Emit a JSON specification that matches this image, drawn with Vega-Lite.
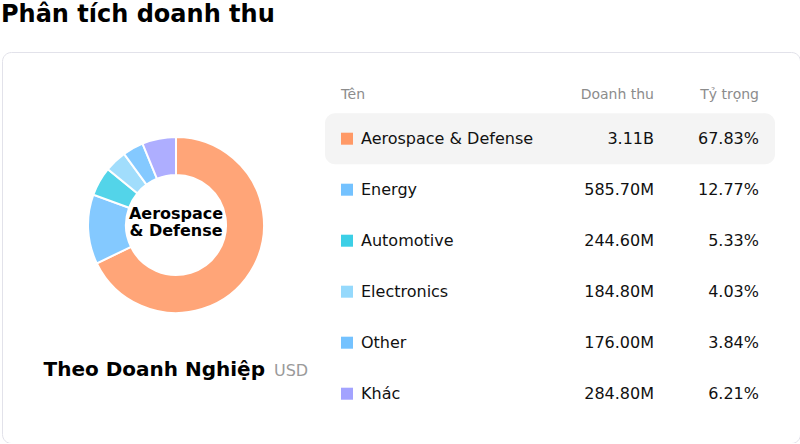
{
  "$schema": "https://vega.github.io/schema/vega-lite/v6.json",
  "padding": {"left": 1, "top": 3, "right": 1, "bottom": 0},
  "title": {
    "text": "Phân tích doanh thu",
    "anchor": "start",
    "frame": "bounds",
    "dx": -1,
    "font": "DejaVu Sans",
    "fontSize": 24,
    "fontWeight": "bold",
    "color": "#000000",
    "offset": 25
  },
  "width": 798,
  "height": 391,
  "view": {"stroke": "#e2e2ea", "strokeWidth": 1, "cornerRadius": 9},
  "datasets": {
    "revenue": [
      {"name": "Aerospace & Defense", "rank": 1, "revenue": 3110.0, "revenue_label": "3.11B", "share": 0.6783},
      {"name": "Energy", "rank": 2, "revenue": 585.7, "revenue_label": "585.70M", "share": 0.1277},
      {"name": "Automotive", "rank": 3, "revenue": 244.6, "revenue_label": "244.60M", "share": 0.0533},
      {"name": "Electronics", "rank": 4, "revenue": 184.8, "revenue_label": "184.80M", "share": 0.0403},
      {"name": "Other", "rank": 5, "revenue": 176.0, "revenue_label": "176.00M", "share": 0.0384},
      {"name": "Khác", "rank": 6, "revenue": 284.8, "revenue_label": "284.80M", "share": 0.0621}
    ]
  },
  "data": {"name": "revenue"},
  "layer": [
    {
      "mark": {"type": "arc", "x": 174, "y": 173, "outerRadius": 88, "innerRadius": 50, "stroke": "#ffffff", "strokeWidth": 2, "opacity": 0.88},
      "encoding": {
        "theta": {"field": "revenue", "type": "quantitative", "stack": true},
        "order": {"field": "rank", "type": "quantitative"},
        "color": {
          "field": "name",
          "type": "nominal",
          "legend": null,
          "scale": {
            "domain": ["Aerospace & Defense", "Energy", "Automotive", "Electronics", "Other", "Khác"],
            "range": ["#FF9966", "#74C2FF", "#3CCFE6", "#95D9FC", "#74C2FF", "#A3A3FF"]
          }
        }
      }
    },
    {
      "transform": [{"filter": "datum.rank == 1"}],
      "mark": {"type": "text", "x": 174, "y": 162, "font": "DejaVu Sans", "fontSize": 16, "fontWeight": "bold", "lineHeight": 17, "color": "#000000"},
      "encoding": {"text": {"value": ["Aerospace", "& Defense"]}}
    },
    {
      "transform": [{"filter": "datum.rank == 1"}],
      "mark": {"type": "text", "x": 263, "y": 318, "font": "DejaVu Sans", "fontSize": 20, "fontWeight": "bold", "align": "right", "color": "#000000"},
      "encoding": {"text": {"value": "Theo Doanh Nghiệp"}}
    },
    {
      "transform": [{"filter": "datum.rank == 1"}],
      "mark": {"type": "text", "x": 272, "y": 319, "font": "DejaVu Sans", "fontSize": 16, "align": "left", "color": "#9a9a9a"},
      "encoding": {"text": {"value": "USD"}}
    },
    {
      "layer": [
        {
          "transform": [{"filter": "datum.rank == 1"}],
          "mark": {"type": "rect", "fill": "#f4f4f4", "cornerRadius": 10},
          "encoding": {"x": {"value": 323}, "x2": {"value": 773}}
        },
        {
          "mark": {"type": "square", "size": 144, "filled": true, "opacity": 1},
          "encoding": {
            "x": {"value": 345},
            "color": {
              "field": "name",
              "type": "nominal",
              "legend": null,
              "scale": {
                "domain": ["Aerospace & Defense", "Energy", "Automotive", "Electronics", "Other", "Khác"],
                "range": ["#FF9966", "#74C2FF", "#3CCFE6", "#95D9FC", "#74C2FF", "#A3A3FF"]
              }
            }
          }
        },
        {
          "mark": {"type": "text", "font": "DejaVu Sans", "fontSize": 16, "align": "left", "color": "#111111"},
          "encoding": {"x": {"value": 359}, "text": {"field": "name"}}
        },
        {
          "mark": {"type": "text", "font": "DejaVu Sans", "fontSize": 16, "align": "right", "color": "#111111"},
          "encoding": {"x": {"value": 652}, "text": {"field": "revenue_label"}}
        },
        {
          "mark": {"type": "text", "font": "DejaVu Sans", "fontSize": 16, "align": "right", "color": "#111111"},
          "encoding": {"x": {"value": 757}, "text": {"field": "share", "type": "quantitative", "format": ".2%"}}
        }
      ],
      "encoding": {
        "y": {
          "field": "name",
          "type": "nominal",
          "sort": {"field": "rank"},
          "axis": null,
          "scale": {"paddingInner": 0, "paddingOuter": 0.8333, "align": 0.72}
        }
      }
    },
    {
      "transform": [{"filter": "datum.rank == 1"}],
      "mark": {"type": "text", "x": 339, "y": 43, "font": "DejaVu Sans", "fontSize": 14, "align": "left", "color": "#8c8c8c"},
      "encoding": {"text": {"value": "Tên"}}
    },
    {
      "transform": [{"filter": "datum.rank == 1"}],
      "mark": {"type": "text", "x": 652, "y": 43, "font": "DejaVu Sans", "fontSize": 14, "align": "right", "color": "#8c8c8c"},
      "encoding": {"text": {"value": "Doanh thu"}}
    },
    {
      "transform": [{"filter": "datum.rank == 1"}],
      "mark": {"type": "text", "x": 757, "y": 43, "font": "DejaVu Sans", "fontSize": 14, "align": "right", "color": "#8c8c8c"},
      "encoding": {"text": {"value": "Tỷ trọng"}}
    }
  ],
  "config": {
    "font": "DejaVu Sans"
  }
}
